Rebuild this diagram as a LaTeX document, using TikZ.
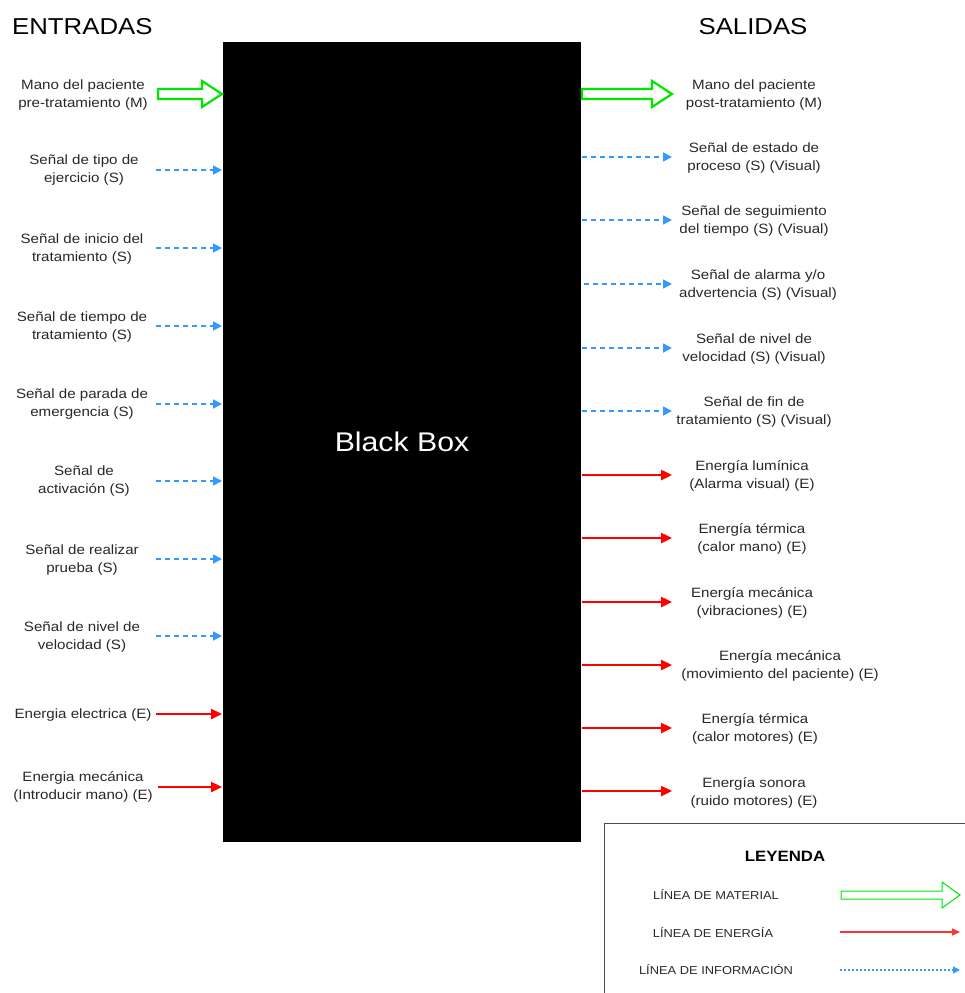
\documentclass[tikz,border=0pt]{standalone}
\usepackage{fontspec}
\setmainfont{Liberation Sans}[FakeStretch=1.12]
\usetikzlibrary{arrows.meta}
\definecolor{infoblue}{RGB}{51,153,255}
\definecolor{matgreen}{RGB}{0,230,0}
\definecolor{txt}{RGB}{40,40,40}
\tikzset{
  lbl/.style={align=center,text=txt,font=\fontsize{13.5}{17.5}\selectfont,inner sep=0pt},
  infoarr/.style={draw=infoblue,line width=1.7pt,dash pattern=on 5pt off 4pt,-{Triangle[length=9pt,width=9pt]}},
  enarr/.style={draw=red,line width=2.4pt,-{Triangle[length=11pt,width=10pt]}},
  matline/.style={draw=matgreen,line width=2.2pt,line join=miter,fill=white},
  legtxt/.style={text=txt,font=\fontsize{11.5}{13}\selectfont,inner sep=0pt}
}
% hollow material arrow: #1 start x, #2 end x, #3 y, #4 half body, #5 half head, #6 head length
\newcommand{\matarr}[6]{%
  \draw[matline] ({#1},{#3-#4}) -- ({#2-#6},{#3-#4}) -- ({#2-#6},{#3-#5}) -- ({#2},{#3})
   -- ({#2-#6},{#3+#5}) -- ({#2-#6},{#3+#4}) -- ({#1},{#3+#4}) -- cycle;}
\begin{document}
\begin{tikzpicture}[x=1pt,y=-1pt]
\useasboundingbox (0,0) rectangle (965,993);
% titles
\node[anchor=west,text=black,font=\fontsize{23}{26}\selectfont,inner sep=0pt] (tin) at (12,27) {ENTRADAS};
\node[text=black,font=\fontsize{23}{26}\selectfont,inner sep=0pt] (tout) at (753,27) {SALIDAS};
% black box
\fill[black] (223,42) rectangle (581,842);
\node[text=white,font=\fontsize{27}{30}\selectfont,inner sep=0pt] (bb) at (402,442) {Black Box};
% ---------- inputs ----------
\node[lbl] (L1) at (83,95) {Mano del paciente\\pre-tratamiento (M)};
\matarr{158}{222}{94}{5}{13}{20}
\node[lbl] (L2) at (84,170) {Señal de tipo de\\ejercicio (S)};
\coordinate (L2a) at (156,170); \coordinate (L2b) at (222,170);
\draw[infoarr] (L2a) -- (L2b);
\node[lbl] (L3) at (82,249) {Señal de inicio del\\tratamiento (S)};
\coordinate (L3a) at (156,248); \coordinate (L3b) at (222,248);
\draw[infoarr] (L3a) -- (L3b);
\node[lbl] (L4) at (82,327) {Señal de tiempo de\\tratamiento (S)};
\coordinate (L4a) at (156,326); \coordinate (L4b) at (222,326);
\draw[infoarr] (L4a) -- (L4b);
\node[lbl] (L5) at (82,404) {Señal de parada de\\emergencia (S)};
\coordinate (L5a) at (156,404); \coordinate (L5b) at (222,404);
\draw[infoarr] (L5a) -- (L5b);
\node[lbl] (L6) at (84,481) {Señal de\\activación (S)};
\coordinate (L6a) at (156,481); \coordinate (L6b) at (222,481);
\draw[infoarr] (L6a) -- (L6b);
\node[lbl] (L7) at (82,560) {Señal de realizar\\prueba (S)};
\coordinate (L7a) at (156,559); \coordinate (L7b) at (222,559);
\draw[infoarr] (L7a) -- (L7b);
\node[lbl] (L8) at (82,637) {Señal de nivel de\\velocidad (S)};
\coordinate (L8a) at (156,636); \coordinate (L8b) at (222,636);
\draw[infoarr] (L8a) -- (L8b);
\node[lbl] (L9) at (83,715) {Energia electrica (E)};
\coordinate (L9a) at (156,714); \coordinate (L9b) at (222,714);
\draw[enarr] (L9a) -- (L9b);
\node[lbl] (L10) at (83,787) {Energia mecánica\\(Introducir mano) (E)};
\coordinate (L10a) at (158,787); \coordinate (L10b) at (222,787);
\draw[enarr] (L10a) -- (L10b);
% ---------- outputs ----------
\node[lbl] (R1) at (754,95) {Mano del paciente\\post-tratamiento (M)};
\matarr{582}{672}{94}{5}{13}{20}
\node[lbl] (R2) at (754,158) {Señal de estado de\\proceso (S) (Visual)};
\coordinate (R2a) at (582,157); \coordinate (R2b) at (672,157);
\draw[infoarr] (R2a) -- (R2b);
\node[lbl] (R3) at (754,221) {Señal de seguimiento\\del tiempo (S) (Visual)};
\coordinate (R3a) at (582,220); \coordinate (R3b) at (672,220);
\draw[infoarr] (R3a) -- (R3b);
\node[lbl] (R4) at (758,285) {Señal de alarma y/o\\advertencia (S) (Visual)};
\coordinate (R4a) at (584,284); \coordinate (R4b) at (672,284);
\draw[infoarr] (R4a) -- (R4b);
\node[lbl] (R5) at (754,349) {Señal de nivel de\\velocidad (S) (Visual)};
\coordinate (R5a) at (582,348); \coordinate (R5b) at (672,348);
\draw[infoarr] (R5a) -- (R5b);
\node[lbl] (R6) at (754,412) {Señal de fin de\\tratamiento (S) (Visual)};
\coordinate (R6a) at (582,411); \coordinate (R6b) at (672,411);
\draw[infoarr] (R6a) -- (R6b);
\node[lbl] (R7) at (752,476) {Energía lumínica\\(Alarma visual) (E)};
\coordinate (R7a) at (582,475); \coordinate (R7b) at (672,475);
\draw[enarr] (R7a) -- (R7b);
\node[lbl] (R8) at (752,539) {Energía térmica\\(calor mano) (E)};
\coordinate (R8a) at (582,538); \coordinate (R8b) at (672,538);
\draw[enarr] (R8a) -- (R8b);
\node[lbl] (R9) at (752,603) {Energía mecánica\\(vibraciones) (E)};
\coordinate (R9a) at (582,602); \coordinate (R9b) at (672,602);
\draw[enarr] (R9a) -- (R9b);
\node[lbl] (R10) at (780,666) {Energía mecánica\\(movimiento del paciente) (E)};
\coordinate (R10a) at (582,665); \coordinate (R10b) at (672,665);
\draw[enarr] (R10a) -- (R10b);
\node[lbl] (R11) at (755,729) {Energía térmica\\(calor motores) (E)};
\coordinate (R11a) at (582,728); \coordinate (R11b) at (672,728);
\draw[enarr] (R11a) -- (R11b);
\node[lbl] (R12) at (754,793) {Energía sonora\\(ruido motores) (E)};
\coordinate (R12a) at (582,791); \coordinate (R12b) at (672,791);
\draw[enarr] (R12a) -- (R12b);
% ---------- legend ----------
\draw[draw=black!70,line width=1pt] (604,1000) -- (604,823) -- (970,823);
\node[font=\bfseries\fontsize{15}{18}\selectfont,inner sep=0pt] (leg) at (785,856) {LEYENDA};
\node[legtxt] (lm) at (716,895) {LÍNEA DE MATERIAL};
\node[legtxt] (le) at (713,933) {LÍNEA DE ENERGÍA};
\node[legtxt] (li) at (716,970) {LÍNEA DE INFORMACIÓN};
\draw[draw=matgreen,line width=1pt,fill=white] (841,891) -- (942,891) -- (942,882) -- (960,895) -- (942,908) -- (942,899) -- (841,899) -- cycle;
\coordinate (lea) at (840,932); \coordinate (leb) at (960,932);
\draw[draw=red!80!white,line width=1.3pt,-{Triangle[length=8pt,width=7pt]}] (lea) -- (leb);
\coordinate (lia) at (840,970); \coordinate (lib) at (960,970);
\draw[draw=infoblue,line width=1.3pt,dash pattern=on 2pt off 2pt,-{Triangle[length=7pt,width=7pt]}] (lia) -- (lib);
\end{tikzpicture}
\end{document}
